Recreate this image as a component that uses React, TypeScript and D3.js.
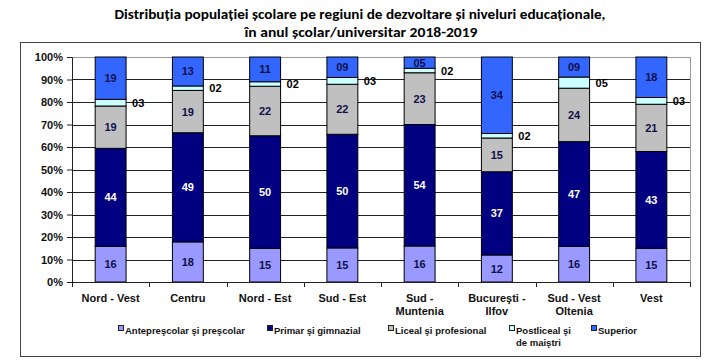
import * as d3 from "d3";
import { useEffect, useRef } from "react";

// regions (x axis), two-line labels
const regions = [
  ["Nord - Vest"],
  ["Centru"],
  ["Nord - Est"],
  ["Sud - Est"],
  ["Sud -", "Muntenia"],
  ["Bucureşti -", "Ilfov"],
  ["Sud - Vest", "Oltenia"],
  ["Vest"],
];

const seriesNames = [
  ["Antepreşcolar şi preşcolar"],
  ["Primar şi gimnazial"],
  ["Liceal şi profesional"],
  ["Postliceal şi", "de maiştri"],
  ["Superior"],
];

const anteprescolar = [16, 18, 15, 15, 16, 12, 16, 15];
const primar = [44, 49, 50, 50, 54, 37, 47, 43];
const liceal = [19, 19, 22, 22, 23, 15, 24, 21];
const postliceal = [3, 2, 2, 3, 2, 2, 5, 3];
const superior = [19, 13, 11, 9, 5, 34, 9, 18];

const yTicks = [0, 0.1, 0.2, 0.3, 0.4, 0.5, 0.6, 0.7, 0.8, 0.9, 1];

const colors = ["#9999ff", "#000080", "#c0c0c0", "#ccffff", "#3366ff"];
const labelColors = ["#10104a", "#ffffff", "#10104a", "#000000", "#10104a"];

const font = "'Liberation Sans', Arial, sans-serif";

const App = () => {
  const svgRef = useRef<SVGSVGElement | null>(null);

  useEffect(() => {
    const W = 721;
    const H = 361;
    const margin = { top: 57, right: 31, bottom: 79, left: 72 };
    const width = W - margin.left - margin.right;
    const height = H - margin.top - margin.bottom;

    const svg = d3.select(svgRef.current);
    svg.selectAll("*").remove();
    svg.attr("width", W).attr("height", H);

    svg.append("rect").attr("width", W).attr("height", H).style("fill", "white");

    // title
    const title = svg
      .append("text")
      .attr("text-anchor", "middle")
      .style("font-family", "Calibri, Carlito, 'Open Sans', sans-serif")
      .style("font-weight", "bold")
      .style("font-size", "14px")
      .style("fill", "#000");
    title
      .append("tspan")
      .attr("x", 360)
      .attr("y", 19)
      .attr("textLength", 491)
      .attr("lengthAdjust", "spacingAndGlyphs")
      .text("Distribuția populației școlare pe regiuni de dezvoltare și niveluri educaționale,");
    title
      .append("tspan")
      .attr("x", 361)
      .attr("y", 37)
      .attr("textLength", 233)
      .attr("lengthAdjust", "spacingAndGlyphs")
      .text("în anul școlar/universitar 2018-2019");

    // outer frame
    svg
      .append("rect")
      .attr("x", 20.5)
      .attr("y", 42.5)
      .attr("width", 680)
      .attr("height", 314)
      .style("fill", "none")
      .style("stroke", "#444")
      .style("stroke-width", 1);

    const g = svg.append("g").attr("transform", `translate(${margin.left},${margin.top})`);

    const x = d3
      .scaleBand<number>()
      .domain(d3.range(regions.length))
      .range([0, width])
      .paddingInner(0.6)
      .paddingOuter(0.3);
    const y = d3.scaleLinear().domain([0, 1]).range([height, 0]);

    // plot area border (grey)
    g.append("rect")
      .attr("x", 0.5)
      .attr("y", 0.5)
      .attr("width", width)
      .attr("height", height)
      .style("fill", "none")
      .style("stroke", "#999");

    // gridlines
    g.selectAll("line.grid")
      .data(yTicks.slice(1, -1))
      .enter()
      .append("line")
      .attr("x1", 0)
      .attr("x2", width)
      .attr("y1", (d) => Math.round(y(d)) + 0.5)
      .attr("y2", (d) => Math.round(y(d)) + 0.5)
      .style("stroke", "#222")
      .style("stroke-width", 1);

    const table = regions.map((_, i) => ({
      i,
      s0: anteprescolar[i],
      s1: primar[i],
      s2: liceal[i],
      s3: postliceal[i],
      s4: superior[i],
    }));
    const keys = ["s0", "s1", "s2", "s3", "s4"];
    const stacked = d3.stack<any>().keys(keys).offset(d3.stackOffsetExpand)(table);

    const layers = g
      .selectAll("g.layer")
      .data(stacked)
      .enter()
      .append("g")
      .attr("class", "layer");

    layers
      .selectAll("rect")
      .data((s) => s.map((d) => ({ d, k: s.index })))
      .enter()
      .append("rect")
      .attr("x", (p) => x(p.d.data.i)!)
      .attr("y", (p) => y(p.d[1]))
      .attr("width", x.bandwidth())
      .attr("height", (p) => y(p.d[0]) - y(p.d[1]))
      .style("fill", (p) => colors[p.k])
      .style("stroke", "#000")
      .style("stroke-width", 1);

    const fmt = d3.format("02d");
    layers
      .selectAll("text")
      .data((s) => s.map((d) => ({ d, k: s.index, v: d.data[s.key] as number })))
      .enter()
      .append("text")
      .attr("x", (p) =>
        p.k === 3 ? x(p.d.data.i)! + x.bandwidth() + 6 : x(p.d.data.i)! + x.bandwidth() / 2
      )
      .attr("y", (p) => (y(p.d[0]) + y(p.d[1])) / 2 + 4)
      .attr("text-anchor", (p) => (p.k === 3 ? "start" : "middle"))
      .style("font-family", font)
      .style("font-weight", "bold")
      .style("font-size", "11px")
      .style("fill", (p) => labelColors[p.k])
      .text((p) => fmt(p.v));

    // y axis
    const yAxis = g
      .append("g")
      .call(d3.axisLeft(y).tickValues(yTicks).tickFormat(d3.format(".0%")).tickSize(5).tickPadding(4));
    yAxis.select(".domain").style("stroke", "#222");
    yAxis.selectAll(".tick line").style("stroke", "#222");
    yAxis
      .selectAll(".tick text")
      .style("font-family", font)
      .style("font-weight", "bold")
      .style("font-size", "11px")
      .style("fill", "#111");

    // x axis baseline with ticks between categories
    const xa = g.append("g").attr("transform", `translate(0,${height})`);
    xa.append("line").attr("x1", 0).attr("x2", width).attr("y1", 0.5).attr("y2", 0.5).style("stroke", "#222");
    const step = x.step();
    const lead = x(0)! - (step - x.bandwidth()) / 2;
    xa.selectAll("line.t")
      .data(d3.range(regions.length + 1))
      .enter()
      .append("line")
      .attr("x1", (i) => Math.round(lead + i * step) + 0.5)
      .attr("x2", (i) => Math.round(lead + i * step) + 0.5)
      .attr("y1", 0)
      .attr("y2", 5)
      .style("stroke", "#222");

    const cat = xa
      .selectAll("text.cat")
      .data(regions)
      .enter()
      .append("text")
      .attr("text-anchor", "middle")
      .style("font-family", font)
      .style("font-weight", "bold")
      .style("font-size", "11px")
      .style("fill", "#111");
    cat
      .selectAll("tspan")
      .data((lines, i) => lines.map((t) => ({ t, i })))
      .enter()
      .append("tspan")
      .attr("x", (d) => x(d.i)! + x.bandwidth() / 2)
      .attr("y", (_, j) => 20 + j * 13)
      .text((d) => d.t);

    // legend
    const legendX = [118, 267, 388, 509, 591];
    const legend = svg
      .selectAll("g.legend")
      .data(seriesNames)
      .enter()
      .append("g")
      .attr("transform", (_, i) => `translate(${legendX[i]},330)`);
    legend
      .append("rect")
      .attr("x", 0.5)
      .attr("y", -4.5)
      .attr("width", 5)
      .attr("height", 5)
      .style("fill", (_, i) => colors[i])
      .style("stroke", "#222");
    legend
      .append("text")
      .style("font-family", font)
      .style("font-weight", "bold")
      .style("font-size", "9.5px")
      .style("fill", "#111")
      .selectAll("tspan")
      .data((lines) => lines)
      .enter()
      .append("tspan")
      .attr("x", 7)
      .attr("y", (_, j) => 4 + j * 12)
      .text((t) => t);
  }, []);

  return <svg ref={svgRef} style={{ display: "block", position: "absolute", left: 0, top: 0 }} />;
};

export default App;
